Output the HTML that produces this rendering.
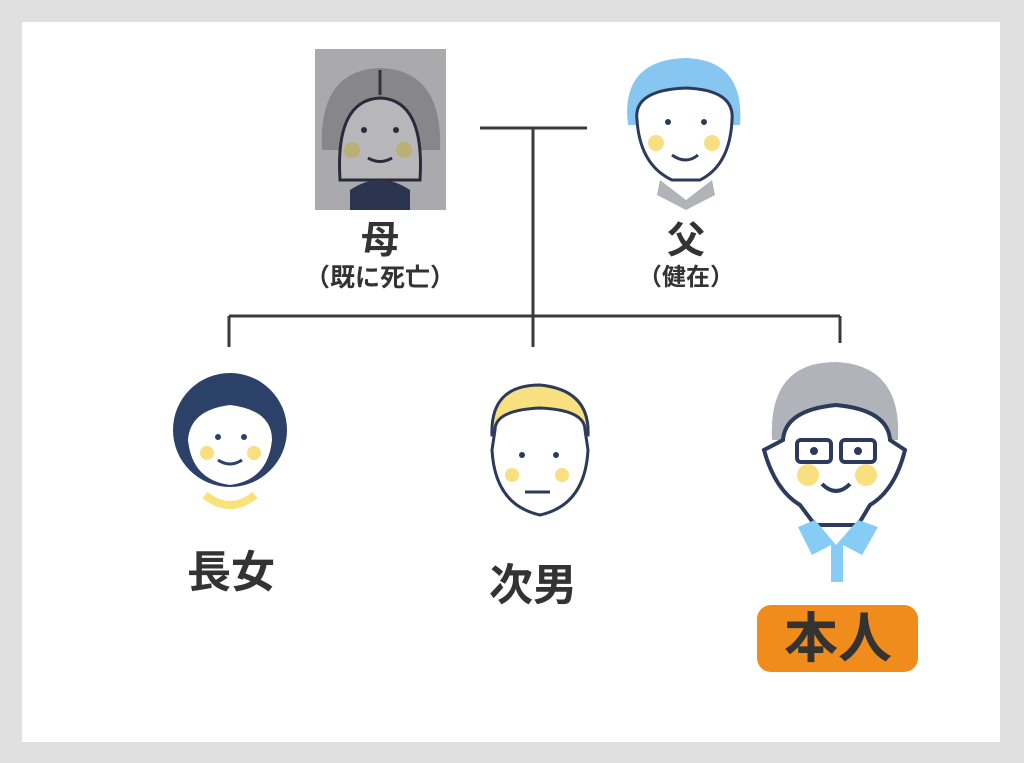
<!DOCTYPE html>
<html><head><meta charset="utf-8"><style>
html,body{margin:0;padding:0}
body{width:1024px;height:763px;background:#dfe0df;position:relative;overflow:hidden;font-family:"Liberation Sans","Noto Sans CJK JP",sans-serif;}
#in{position:absolute;left:22px;top:22px;width:978px;height:720px;background:#fff}
.t{position:absolute;color:#333;font-weight:bold;text-align:center;transform:translateX(-50%);white-space:nowrap;line-height:1}
svg{position:absolute;left:0;top:0}
</style></head><body>
<div id="in"></div>
<svg width="1024" height="763" viewBox="0 0 1024 763">
<g stroke="#3a3a3a" stroke-width="3" fill="none">
<path d="M480 128H587M533 128V347M229 316H840M229 316V347M840 316V343"/>
</g>
<!-- mother -->
<rect x="315" y="49" width="131" height="161" fill="#aaa9ad"/>
<path d="M322 150 Q318 70 380 68 Q443 70 440 150 Z" fill="#87878a"/>
<path d="M340 180 Q335 100 380 98 Q425 100 420 180 Z" fill="#b7b6b9" stroke="#2a2a3a" stroke-width="3"/>
<path d="M350 190 Q380 170 410 190 L410 210 L350 210Z" fill="#2c3550"/>
<circle cx="352" cy="150" r="8" fill="#b9b076"/><circle cx="404" cy="150" r="8" fill="#b9b076"/>
<path d="M380 70V95" stroke="#333" stroke-width="3"/>
<g fill="#2a2a3a"><circle cx="364" cy="130" r="3"/><circle cx="396" cy="130" r="3"/></g>
<path d="M368 158 Q380 165 392 158" stroke="#2a2a3a" stroke-width="3" fill="none"/>
<!-- father -->
<path d="M628 125 Q620 60 686 58 Q745 60 740 125 Z" fill="#86c6f0"/>
<path d="M637 120 Q633 90 686 88 Q735 90 732 120 Q730 165 700 180 L672 180 Q640 165 637 120Z" fill="#fff" stroke="#2c3a5c" stroke-width="3"/>
<path d="M660 180 L686 200 L712 180 L715 195 L686 210 L657 195Z" fill="#b0b3b8"/>
<circle cx="656" cy="143" r="8" fill="#f8df80"/><circle cx="712" cy="143" r="8" fill="#f8df80"/>
<g fill="#2c3a5c"><circle cx="668" cy="122" r="3"/><circle cx="704" cy="122" r="3"/></g>
<path d="M672 155 Q686 165 698 155" stroke="#2c3a5c" stroke-width="3" fill="none"/>
<!-- daughter -->
<circle cx="230" cy="430" r="57" fill="#2c4168"/>
<path d="M188 440 Q190 410 230 405 Q272 410 272 440 Q268 480 230 485 Q192 480 188 440Z" fill="#fff"/>
<path d="M205 495 Q230 515 255 495" stroke="#f8e27a" stroke-width="8" fill="none"/>
<circle cx="207" cy="453" r="7" fill="#f8df80"/><circle cx="254" cy="453" r="7" fill="#f8df80"/>
<g fill="#2c4168"><circle cx="218" cy="437" r="3"/><circle cx="244" cy="437" r="3"/></g>
<path d="M218 460 Q230 468 242 460" stroke="#2c4168" stroke-width="3" fill="none"/>
<!-- son -->
<path d="M492 435 Q490 385 540 385 Q590 390 588 435 Z" fill="#f8df80" stroke="#2c3a5c" stroke-width="3"/>
<path d="M495 430 Q495 410 540 408 Q585 410 585 430 L588 450 Q585 505 540 515 Q495 505 492 450Z" fill="#fff" stroke="#2c3a5c" stroke-width="3"/>
<circle cx="512" cy="475" r="7" fill="#f8df80"/><circle cx="562" cy="475" r="7" fill="#f8df80"/>
<g fill="#2c3a5c"><circle cx="522" cy="455" r="3"/><circle cx="556" cy="455" r="3"/></g>
<path d="M525 492 H550" stroke="#2c3a5c" stroke-width="3"/>
<!-- self -->
<path d="M772 440 Q768 362 836 362 Q902 365 898 440 Z" fill="#b0b4ba"/>
<path d="M783 440 Q785 410 836 405 Q888 410 890 440 L905 450 Q895 490 870 505 L858 525 L815 525 L800 505 Q775 490 764 450Z" fill="#fff" stroke="#2c3a5c" stroke-width="4"/>
<rect x="797" y="440" width="34" height="22" rx="4" fill="none" stroke="#2c3a5c" stroke-width="4"/>
<rect x="841" y="440" width="34" height="22" rx="4" fill="none" stroke="#2c3a5c" stroke-width="4"/>
<g fill="#2c3a5c"><circle cx="814" cy="451" r="4"/><circle cx="858" cy="451" r="4"/></g>
<circle cx="808" cy="475" r="11" fill="#f8df80"/><circle cx="866" cy="475" r="11" fill="#f8df80"/>
<path d="M822 484 Q836 498 850 484" stroke="#2c3a5c" stroke-width="4" fill="none"/>
<path d="M798 527 L815 520 L836 545 L858 520 L878 527 L862 555 L843 545 L843 582 L831 582 L831 545 L812 555Z" fill="#86ccf4"/>
<rect x="757" y="605" width="161" height="67" rx="14" fill="#ef8c1c"/>
</svg>
<div class="t" style="left:380px;top:222px;font-size:38px">母</div>
<div class="t" style="left:380px;top:266px;font-size:25px">（既に死亡）</div>
<div class="t" style="left:686px;top:222px;font-size:38px">父</div>
<div class="t" style="left:686px;top:266px;font-size:24px">（健在）</div>
<div class="t" style="left:231px;top:551px;font-size:44px">長女</div>
<div class="t" style="left:533px;top:564px;font-size:44px">次男</div>
<div class="t" style="left:838px;top:612px;font-size:54px">本人</div>
</body></html>
